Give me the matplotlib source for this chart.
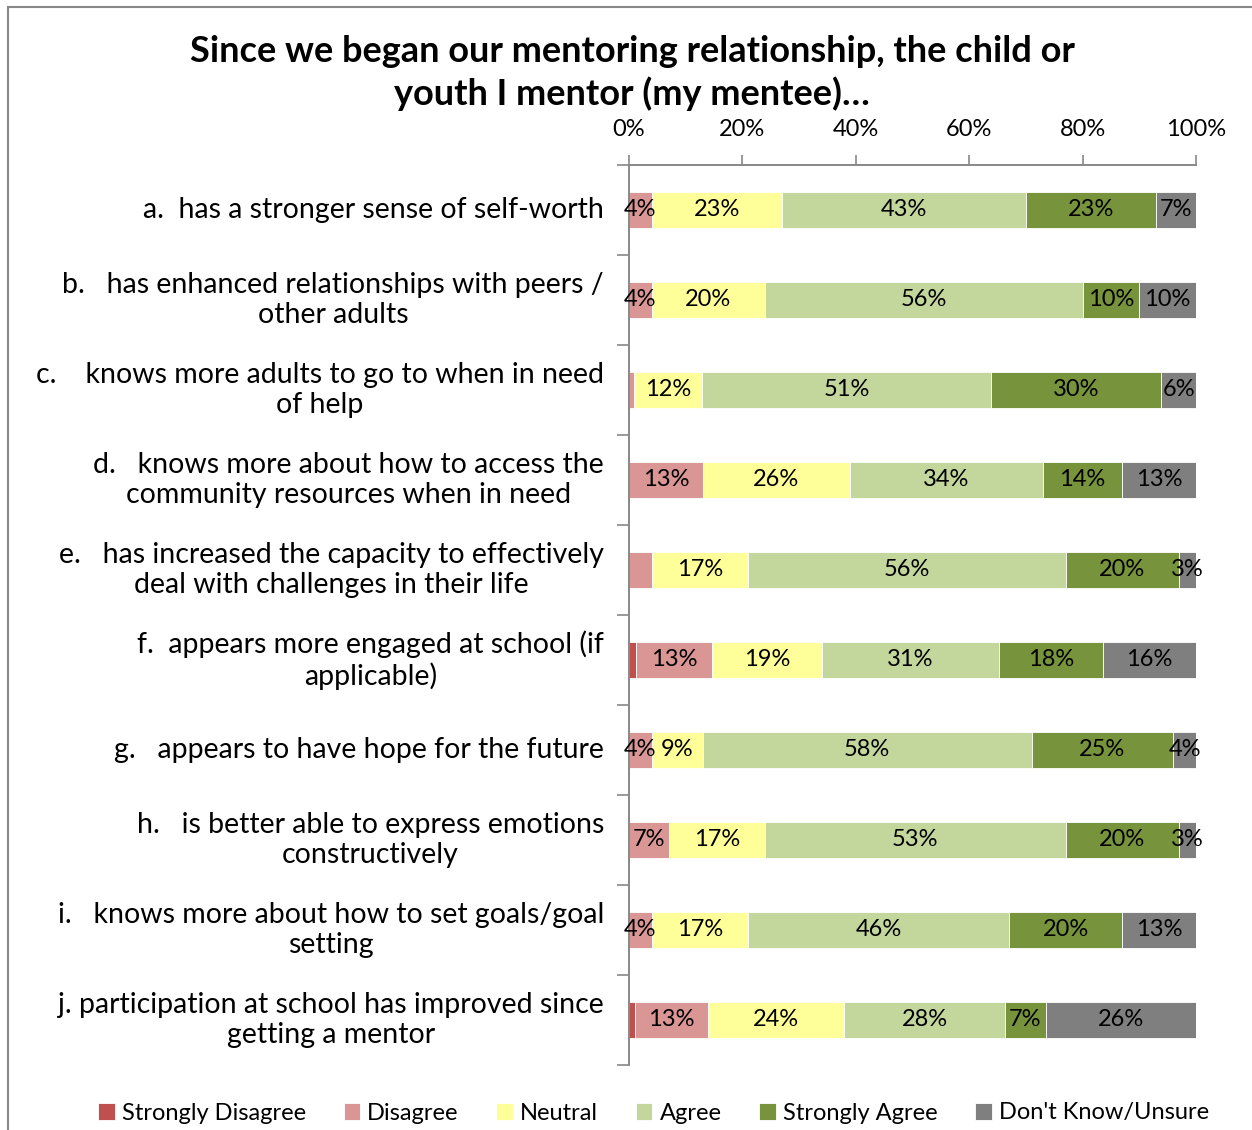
import matplotlib.pyplot as plt
from matplotlib.patches import Rectangle
import numpy as np

plt.rcParams['font.family'] = ['Lato', 'DejaVu Sans']

statements = [
    "a.  has a stronger sense of self-worth",
    "b.   has enhanced relationships with peers /\nother adults",
    "c.    knows more adults to go to when in need\nof help",
    "d.   knows more about how to access the\ncommunity resources when in need",
    "e.   has increased the capacity to effectively\ndeal with challenges in their life",
    "f.  appears more engaged at school (if\napplicable)",
    "g.   appears to have hope for the future",
    "h.   is better able to express emotions\nconstructively",
    "i.   knows more about how to set goals/goal\nsetting",
    "j. participation at school has improved since\ngetting a mentor",
]

responses = ["Strongly Disagree", "Disagree", "Neutral", "Agree",
             "Strongly Agree", "Don't Know/Unsure"]
colors = ["#C0504D", "#D99694", "#FFFF99", "#C3D69B", "#77933C", "#7F7F7F"]

strongly_disagree = [0, 0, 0, 0, 0, 1.2, 0, 0, 0, 1.0]
disagree = [4, 4, 0.9, 13, 4, 13.4, 4, 7, 4, 13]
neutral = [23, 20, 12, 26, 17, 19.4, 9, 17, 17, 24]
agree = [43, 56, 51, 34, 56, 31.3, 58, 53, 46, 28.3]
strongly_agree = [23, 10, 30, 14, 20, 18.3, 25, 20, 20, 7.2]
dont_know = [7, 10, 6.1, 13, 3, 16.4, 4, 3, 13, 26.5]

series = [strongly_disagree, disagree, neutral, agree, strongly_agree, dont_know]
# labels left off the chart (row, series)
hidden_labels = [(4, 1)]

fig = plt.figure(figsize=(12.52, 11.3), dpi=100)
ax = fig.add_axes([629 / 1252, 1 - 1065 / 1130, 567 / 1252, 900 / 1130])

y = np.arange(len(statements))
left = np.zeros(len(statements))
for j, (name, vals, col) in enumerate(zip(responses, series, colors)):
    vals = np.array(vals)
    ax.barh(y, vals, left=left, height=0.4, color=col, label=name,
            edgecolor='white', linewidth=0.6)
    for i, v in enumerate(vals):
        if v < 2 or (i, j) in hidden_labels:
            continue
        ax.text(left[i] + v / 2, y[i], f"{v:.0f}%", ha='center', va='center',
                fontsize=17, color='black')
    left += vals

ax.set_xlim(0, 100)
ax.set_ylim(len(statements) - 0.5, -0.5)
ax.xaxis.tick_top()
ax.set_xticks(np.arange(0, 101, 20))
ax.set_xticklabels([f"{t}%" for t in range(0, 101, 20)], fontsize=17)
ax.tick_params(axis='x', length=7, width=1.2, color='#888888', pad=11)
ax.set_yticks(np.arange(len(statements) + 1) - 0.5)
ax.set_yticklabels([])
ax.tick_params(axis='y', length=9, width=1.2, color='#888888')
for side in ['right', 'bottom']:
    ax.spines[side].set_visible(False)
for side in ['top', 'left']:
    ax.spines[side].set_color('#888888')
    ax.spines[side].set_linewidth(1.4)

for i, s in enumerate(statements):
    ax.annotate(s, xy=(0, y[i]), xycoords=('axes fraction', 'data'),
                xytext=(-25, 0), textcoords='offset pixels',
                ha='right', va='center', multialignment='center',
                fontsize=20.5, linespacing=1.18)

fig.text(0.505, 1 - 73 / 1130,
         "Since we began our mentoring relationship, the child or\nyouth I mentor (my mentee)…",
         ha='center', va='center', fontsize=26, fontweight='bold', linespacing=1.3)

fig.legend(loc='center', bbox_to_anchor=(0.522, 1 - 1113 / 1130), ncol=6,
           frameon=False, fontsize=17, handlelength=0.7, handleheight=0.7,
           handletextpad=0.3, columnspacing=1.6)

fig.patches.append(Rectangle((8 / 1252, -0.1), 1.2, 1 - 7 / 1130 + 0.1,
                             transform=fig.transFigure, fill=False,
                             edgecolor='#888888', linewidth=1.5))

fig.savefig("out.png", dpi=100)
